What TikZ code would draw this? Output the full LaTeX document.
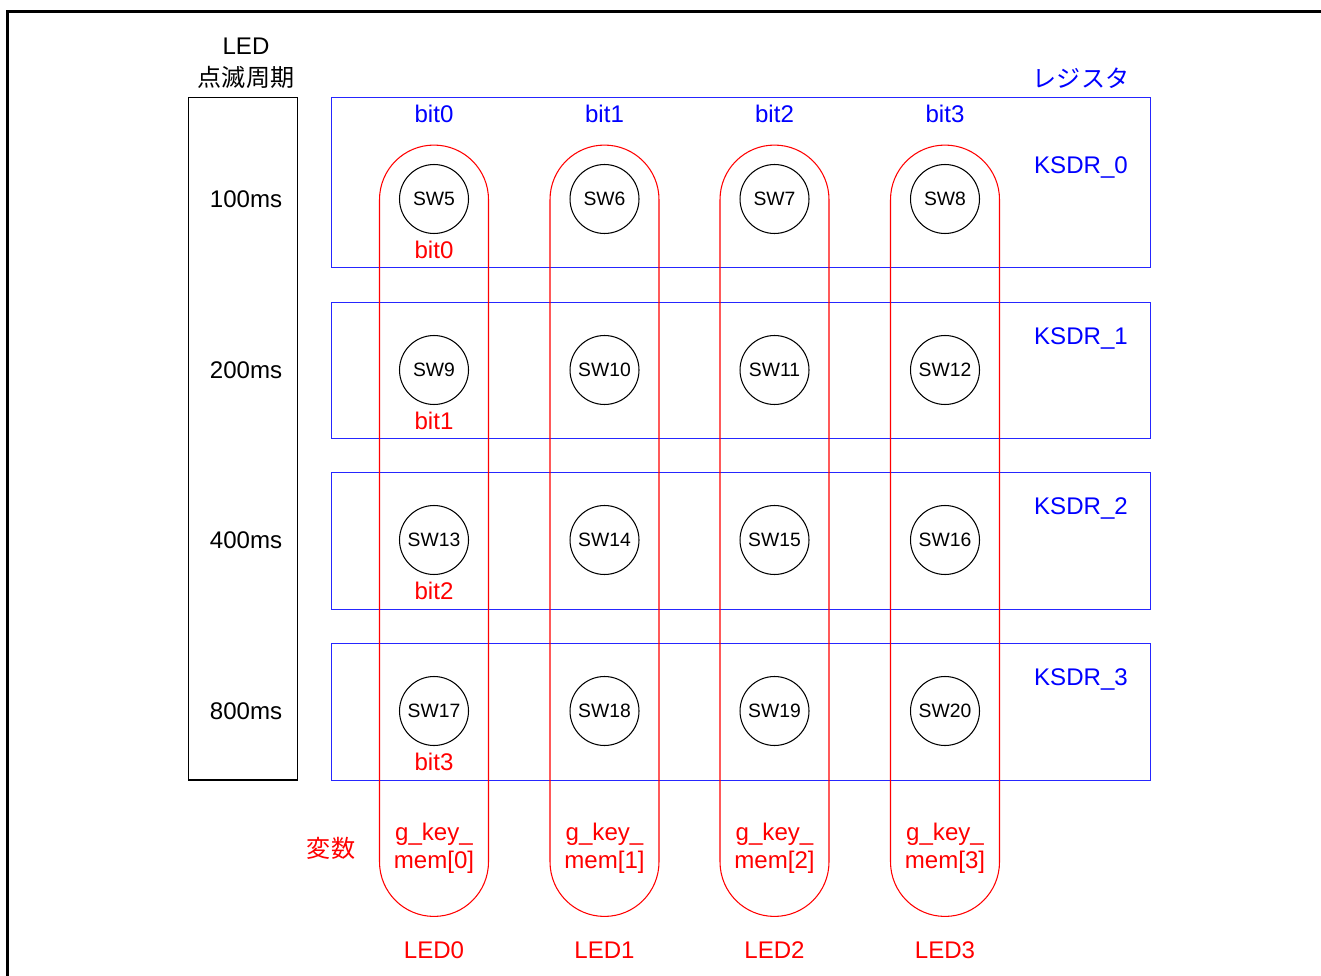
\documentclass[tikz,border=0pt]{standalone}
\usepackage{fontspec}
\setmainfont{Liberation Sans}
\newfontfamily\jpfont{Noto Sans CJK JP}
\usetikzlibrary{positioning}

\begin{document}
\begin{tikzpicture}[
    x=0.02cm, y=-0.02cm,
    txt/.style={
        inner sep=0pt,
        font=\fontsize{13.7}{16.2}\selectfont
    },
    bluetxt/.style={txt, text=blue},
    redtxt/.style={txt, text=red, align=center},
    waku/.style={
        draw,
        line width=0.6pt
    },
    regbox/.style={
        draw=blue!85!white,
        line width=0.55pt
    },
    pill/.style={
        draw=red,
        line width=0.6pt,
        rounded corners=1.09cm,
        minimum width=2.18cm,
        minimum height=15.43cm
    },
    sw/.style={
        draw,
        circle,
        line width=0.6pt,
        minimum size=1.38cm,
        inner sep=0pt,
        font=\fontsize{11}{13}\selectfont
    }
]

\useasboundingbox (0,0) rectangle (1321,976);
\clip (0,0) rectangle (1321,976);

% Rahmen
\draw[line width=1.7pt] (7.5,1000) |- (1340,11.5);

% LED Blinkperiode
\node[txt] (ledtitle) at (246,46) {LED};
\node[txt] (period) at (246,77) {\jpfont 点滅周期};
\draw[waku] (188.5,97.5) rectangle (297.5,780);
\node[txt] (t100) at (246,199) {100ms};
\node[txt] (t200) at (246,370) {200ms};
\node[txt] (t400) at (246,540) {400ms};
\node[txt] (t800) at (246,711) {800ms};

% Register
\node[bluetxt] (register) at (1081,78) {\jpfont レジスタ};
\draw[regbox] (331.5,97.5) rectangle (1150,267.5);
\draw[regbox] (331.5,302.5) rectangle (1150,438.3);
\draw[regbox] (331.5,472.7) rectangle (1150,609);
\draw[regbox] (331.5,643.7) rectangle (1150,780);
\node[bluetxt] (ksdr0) at (1081,167) {KSDR\_0};
\node[bluetxt] (ksdr1) at (1081,338) {KSDR\_1};
\node[bluetxt] (ksdr2) at (1081,508) {KSDR\_2};
\node[bluetxt] (ksdr3) at (1081,679) {KSDR\_3};

% Variablen
\node[redtxt] (hensu) at (331,848) {\jpfont 変数};
\foreach \c/\x in {0/434,1/604.5,2/774.5,3/945} {
    \node[pill] (pill\c) at (\x,530.75) {};
    \node[bluetxt] (bit\c) at (\x,114) {bit\c};
    \node[redtxt] (mem\c) at (\x,848.5) {g\_key\_\\mem[\c]};
    \node[redtxt] (led\c) at (\x,950) {LED\c};
}

% Schalter
\foreach \r/\y in {0/199,1/370,2/540,3/711} {
    \foreach \c/\x in {0/434,1/604.5,2/774.5,3/945} {
        \pgfmathtruncatemacro\n{5+4*\r+\c}
        \node[sw] (sw\n) at (\x,\y) {SW\n};
    }
    \node[redtxt] (rbit\r) at (434,\y+51) {bit\r};
}

\end{tikzpicture}
\end{document}
